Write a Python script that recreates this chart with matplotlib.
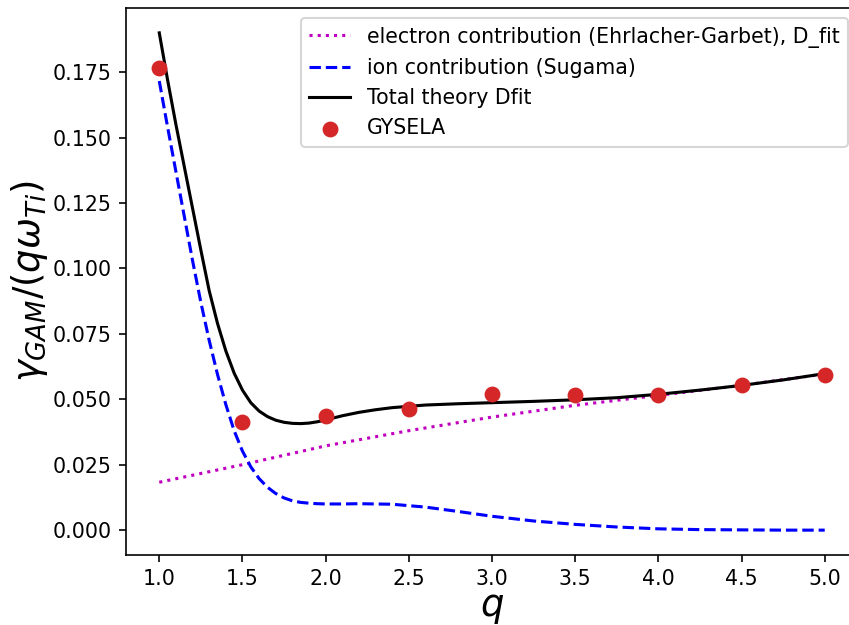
import matplotlib
matplotlib.use("Agg")
import matplotlib.pyplot as plt

# q grid for the theory curves
q_curve = [1.0, 1.05, 1.1, 1.15, 1.2, 1.25, 1.3, 1.35, 1.4, 1.45, 1.5, 1.55, 1.6, 1.65,
           1.7, 1.75, 1.8, 1.85, 1.9, 1.95, 2.0, 2.1, 2.2, 2.3, 2.4, 2.6, 2.8, 3.0,
           3.25, 3.5, 3.75, 4.0, 4.25, 4.5, 4.75, 5.0]
ion = [0.1716, 0.154, 0.137, 0.120, 0.103, 0.087, 0.0725, 0.0595, 0.048, 0.038, 0.0302,
       0.0242, 0.0197, 0.0164, 0.0140, 0.0123, 0.0112, 0.0106, 0.0103, 0.0101, 0.0100,
       0.0100, 0.0101, 0.0100, 0.0099, 0.0088, 0.0071, 0.0053, 0.0035, 0.0022, 0.0012,
       0.0005, 0.0002, 0.0001, 0.0, 0.0]
total = [0.190, 0.172, 0.155, 0.139, 0.123, 0.107, 0.0915, 0.0790, 0.0685, 0.0600, 0.0535,
         0.0487, 0.0455, 0.0434, 0.0420, 0.0412, 0.0408, 0.0407, 0.0409, 0.0414, 0.0421,
         0.0437, 0.0450, 0.0460, 0.0468, 0.0478, 0.0483, 0.0487, 0.0492, 0.0498, 0.0506,
         0.0519, 0.0535, 0.0553, 0.0574, 0.0598]

q_elec = [1.0, 1.5, 2.0, 2.5, 3.0, 3.5, 4.0, 4.5, 5.0]
electron = [0.0183, 0.0250, 0.0322, 0.0380, 0.0432, 0.0477, 0.0515, 0.0553, 0.0597]

# GYSELA simulation points
q_gys = [1.0, 1.5, 2.0, 2.5, 3.0, 3.5, 4.0, 4.5, 5.0]
gysela = [0.1765, 0.0412, 0.0437, 0.0463, 0.0520, 0.0515, 0.0518, 0.0554, 0.0593]

fig = plt.figure(figsize=(849 / 148, 625 / 148), dpi=148)
ax = fig.add_axes([126 / 849, 70 / 625, 732 / 849, 547 / 625])

ax.plot(q_elec, electron, 'm:', label='electron contribution (Ehrlacher-Garbet), D_fit')
ax.plot(q_curve, ion, 'b--', label='ion contribution (Sugama)')
ax.plot(q_curve, total, 'k-', label='Total theory Dfit')
ax.scatter(q_gys, gysela, color='tab:red', s=45, label='GYSELA', zorder=3)

ax.set_xlabel('$q$', fontsize=18, labelpad=0)
ax.set_ylabel(r'$\gamma_{GAM}/(q\omega_{Ti})$', fontsize=18, labelpad=1)
ax.legend(loc='upper right')

plt.savefig('out.png', dpi=148)
